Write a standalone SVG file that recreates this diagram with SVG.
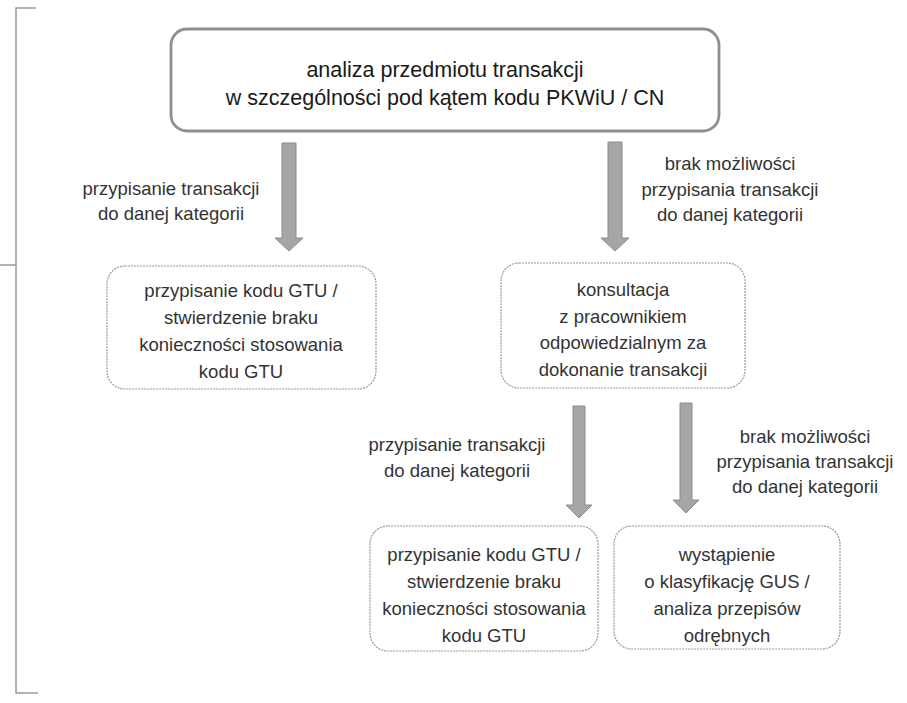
<svg xmlns="http://www.w3.org/2000/svg" width="907" height="703" viewBox="0 0 907 703">
<defs>
<style>
.box{fill:#fff;stroke:#9a9a9a;stroke-width:1.2;stroke-dasharray:2 1}
.main{fill:#fff;stroke:#8f8f8f;stroke-width:2.8}
.t{font-family:"Liberation Sans",Arial,sans-serif;font-size:18.5px;fill:#333;text-anchor:middle}
.tm{font-family:"Liberation Sans",Arial,sans-serif;font-size:21.5px;fill:#1a1a1a;text-anchor:middle}
.arrow{fill:#a6a6a6;stroke:#8c8c8c;stroke-width:1}
.br{fill:none;stroke:#9a9a9a;stroke-width:1.5}
</style>
</defs>
<rect width="907" height="703" fill="#fff"/>
<g id="bracket">
<path class="br" d="M36 8 H16 V693 H38 M0 265 H16"/>
</g>
<g id="connectors">
<path class="arrow" d="M282 143 H296 V238 H303 L289 251 L275 238 H282 Z"/>
<path class="arrow" d="M608 142 H622 V238 H629 L615 251 L601 238 H608 Z"/>
<path class="arrow" d="M573 406 H585 V505 H592 L579 518 L566 505 H573 Z"/>
<path class="arrow" d="M680 403 H692 V500 H699 L686 513 L673 500 H680 Z"/>
<text class="t" x="171" y="195">przypisanie transakcji</text>
<text class="t" x="171" y="220">do danej kategorii</text>
<text class="t" x="730" y="170">brak możliwości</text>
<text class="t" x="730" y="196">przypisania transakcji</text>
<text class="t" x="730" y="221">do danej kategorii</text>
<text class="t" x="457" y="451">przypisanie transakcji</text>
<text class="t" x="457" y="477">do danej kategorii</text>
<text class="t" x="805" y="443">brak możliwości</text>
<text class="t" x="805" y="468">przypisania transakcji</text>
<text class="t" x="805" y="493">do danej kategorii</text>
</g>
<g id="n-analiza">
<rect class="main" x="171" y="29" width="548" height="102" rx="16"/>
<text class="tm" x="445" y="77">analiza przedmiotu transakcji</text>
<text class="tm" x="445" y="105">w szczególności pod kątem kodu PKWiU / CN</text>
</g>
<g id="n-gtu1">
<rect class="box" x="107" y="266" width="269" height="123" rx="18"/>
<text class="t" x="241" y="297">przypisanie kodu GTU /</text>
<text class="t" x="241" y="324">stwierdzenie braku</text>
<text class="t" x="241" y="351">konieczności stosowania</text>
<text class="t" x="241" y="378">kodu GTU</text>
</g>
<g id="n-konsultacja">
<rect class="box" x="501" y="263" width="244" height="125" rx="18"/>
<text class="t" x="623" y="296">konsultacja</text>
<text class="t" x="623" y="323">z pracownikiem</text>
<text class="t" x="623" y="349">odpowiedzialnym za</text>
<text class="t" x="623" y="376">dokonanie transakcji</text>
</g>
<g id="n-gtu2">
<rect class="box" x="370" y="526" width="228" height="125" rx="18"/>
<text class="t" x="484" y="561">przypisanie kodu GTU /</text>
<text class="t" x="484" y="588">stwierdzenie braku</text>
<text class="t" x="484" y="615">konieczności stosowania</text>
<text class="t" x="484" y="642">kodu GTU</text>
</g>
<g id="n-gus">
<rect class="box" x="614" y="526" width="226" height="123" rx="18"/>
<text class="t" x="727" y="561">wystąpienie</text>
<text class="t" x="727" y="588">o klasyfikację GUS /</text>
<text class="t" x="727" y="615">analiza przepisów</text>
<text class="t" x="727" y="642">odrębnych</text>
</g>
</svg>
